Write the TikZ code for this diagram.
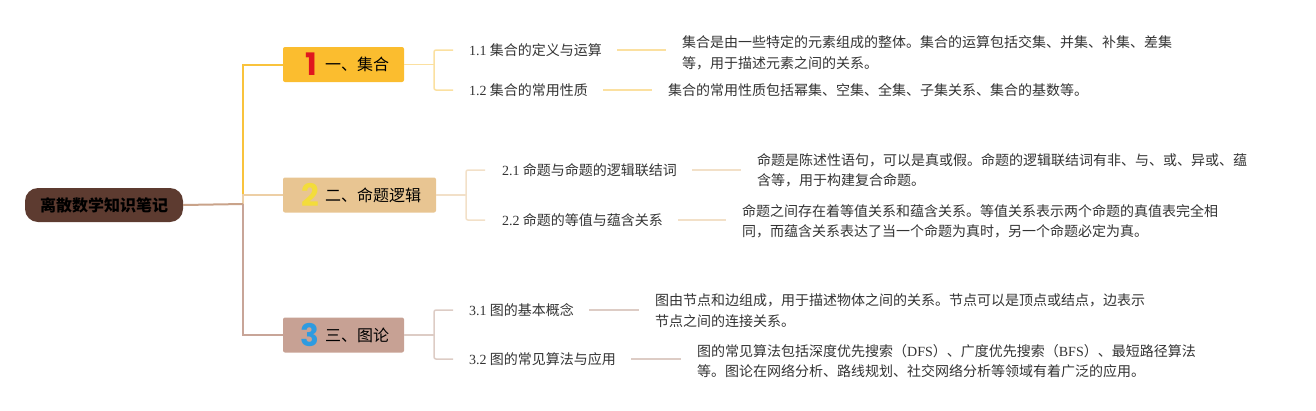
\documentclass[tikz,border=0pt]{standalone}
\usepackage{fontspec}
\setmainfont{Noto Sans CJK SC}
\newfontfamily\lat{Liberation Serif}
\newfontfamily\numf{Poppins}
\usetikzlibrary{calc}
\definecolor{rootc}{HTML}{5D3B30}
\definecolor{rootline}{HTML}{C9A38A}
\definecolor{bfa}{HTML}{FBBD2F}
\definecolor{bfb}{HTML}{E8C592}
\definecolor{bfc}{HTML}{C7A194}
\definecolor{la}{HTML}{F9C33C}
\definecolor{lb}{HTML}{EDCFA5}
\definecolor{lc}{HTML}{C8A598}
\definecolor{ca}{HTML}{FBE0A0}
\definecolor{cb}{HTML}{F2E0C8}
\definecolor{cc}{HTML}{DDCCC5}
\definecolor{txt}{HTML}{333333}
\definecolor{numa}{HTML}{E0161E}
\definecolor{numb}{HTML}{F3DC3B}
\definecolor{numc}{HTML}{2D9BE0}
\begin{document}
\begin{tikzpicture}[x=1pt,y=-1pt,
  rootbox/.style={fill=rootc, rounded corners=13pt, minimum width=158pt, minimum height=34pt, inner sep=0pt, font=\fontsize{16}{16}\selectfont\bfseries, text=black},
  brbox/.style={rounded corners=2pt, minimum height=35pt, inner sep=0pt},
  brnum/.style={inner sep=0pt, font=\numf\bfseries\fontsize{31}{31}\selectfont},
  brtext/.style={anchor=west, inner sep=0pt, font=\fontsize{16}{16}\selectfont, text=black},
  lab/.style={anchor=west, inner sep=0pt, font=\fontsize{14}{14}\selectfont, text=txt},
  desc/.style={anchor=west, inner sep=0pt, align=left, font=\fontsize{14}{20.5}\selectfont, text=txt},
  trunk/.style={line width=2pt},
  child/.style={line width=1.5pt}
]
\useasboundingbox (0,0) rectangle (1316,410);

% root
\node[rootbox] (root) at (104,205) {离散数学知识笔记};

% branch boxes
\node[brbox, fill=bfa, minimum width=121pt] (b1) at (343.5,64.5) {};
\node[brbox, fill=bfb, minimum width=153pt] (b2) at (359.5,195) {};
\node[brbox, fill=bfc, minimum width=121pt] (b3) at (343.5,335) {};

\node[brnum, text=numa] (n1) at (311,64.5) {1};
\node[brtext] (t1) at (325,64.5) {一、集合};
\node[brnum, text=numb] (n2) at (310,195) {2};
\node[brtext] (t2) at (325,195) {二、命题逻辑};
\node[brnum, text=numc] (n3) at (310,335) {3};
\node[brtext] (t3) at (325,335) {三、图论};

% trunk connectors
\coordinate (hub) at (243,204);
\draw[trunk, la] (hub) |- (b1.west);
\draw[trunk, lb] (hub) |- (b2.west);
\draw[trunk, lc] (hub) |- (b3.west);
\draw[trunk, rootline] (root.east) -- (hub);

% labels
\node[lab] (l11) at (469,50) {{\lat 1.1} 集合的定义与运算};
\node[lab] (l12) at (469,90) {{\lat 1.2} 集合的常用性质};
\node[lab] (l21) at (502,170) {{\lat 2.1} 命题与命题的逻辑联结词};
\node[lab] (l22) at (502,220) {{\lat 2.2} 命题的等值与蕴含关系};
\node[lab] (l31) at (469,310) {{\lat 3.1} 图的基本概念};
\node[lab] (l32) at (469,359) {{\lat 3.2} 图的常见算法与应用};

% descriptions
\node[desc] (d11) at (682,53) {集合是由一些特定的元素组成的整体。集合的运算包括交集、并集、补集、差集\\等，用于描述元素之间的关系。};
\node[desc] (d12) at (668,90) {集合的常用性质包括幂集、空集、全集、子集关系、集合的基数等。};
\node[desc] (d21) at (757,170.5) {命题是陈述性语句，可以是真或假。命题的逻辑联结词有非、与、或、异或、蕴\\含等，用于构建复合命题。};
\node[desc] (d22) at (742,221.5) {命题之间存在着等值关系和蕴含关系。等值关系表示两个命题的真值表完全相\\同，而蕴含关系表达了当一个命题为真时，另一个命题必定为真。};
\node[desc] (d31) at (655,310.5) {图由节点和边组成，用于描述物体之间的关系。节点可以是顶点或结点，边表示\\节点之间的连接关系。};
\node[desc] (d32) at (697,361) {图的常见算法包括深度优先搜索（{\lat DFS}）、广度优先搜索（{\lat BFS}）、最短路径算法\\等。图论在网络分析、路线规划、社交网络分析等领域有着广泛的应用。};

% brackets
\coordinate (k1) at (434,64.5);
\coordinate (k2) at (466,195);
\coordinate (k3) at (434,335);
\draw[child, ca] (b1.east) -- (k1);
\draw[child, ca, rounded corners=2pt] ([xshift=-16pt]l11.west) -| (k1) |- ([xshift=-16pt]l12.west);
\draw[child, cb] (b2.east) -- (k2);
\draw[child, cb, rounded corners=2pt] ([xshift=-17pt]l21.west) -| (k2) |- ([xshift=-17pt]l22.west);
\draw[child, cc] (b3.east) -- (k3);
\draw[child, cc, rounded corners=2pt] ([xshift=-16pt]l31.west) -| (k3) |- ([xshift=-16pt]l32.west);

% label to description lines
\draw[child, ca] ([xshift=15pt]l11.east) -- ([xshift=-16pt]l11.east -| d11.west);
\draw[child, ca] ([xshift=15pt]l12.east) -- ([xshift=-16pt]l12.east -| d12.west);
\draw[child, cb] ([xshift=15pt]l21.east) -- ([xshift=-16pt]l21.east -| d21.west);
\draw[child, cb] ([xshift=15pt]l22.east) -- ([xshift=-16pt]l22.east -| d22.west);
\draw[child, cc] ([xshift=15pt]l31.east) -- ([xshift=-16pt]l31.east -| d31.west);
\draw[child, cc] ([xshift=15pt]l32.east) -- ([xshift=-16pt]l32.east -| d32.west);
\end{tikzpicture}
\end{document}
